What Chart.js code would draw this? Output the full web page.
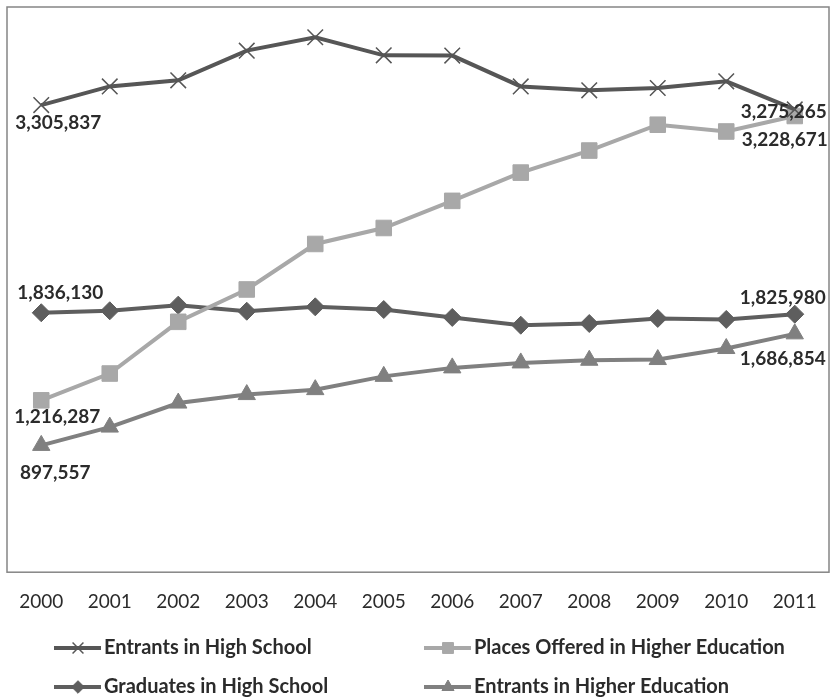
<!DOCTYPE html>
<html>
<head>
<meta charset="utf-8">
<script src="https://cdn.jsdelivr.net/npm/chart.js@4.4.1/dist/chart.umd.min.js"></script>
<style>
  html, body { margin: 0; padding: 0; background: #fff; }
</style>
</head>
<body>
<canvas id="chart" width="832" height="697"></canvas>
<script>
// Enrolment series, 2000-2011
const years = ['2000', '2001', '2002', '2003', '2004', '2005', '2006', '2007', '2008', '2009', '2010', '2011'];
const entrantsHighSchool = [3305837, 3438000, 3481000, 3691000, 3786000, 3658000, 3656000, 3438000, 3410000, 3427000, 3474000, 3275265];
const placesHigherEd = [1216287, 1406000, 1772000, 2001000, 2323000, 2436000, 2628000, 2828000, 2984000, 3167000, 3119000, 3228671];
const graduatesHighSchool = [1836130, 1850000, 1890000, 1847000, 1878000, 1859000, 1803000, 1748000, 1760000, 1796000, 1789000, 1825980];
const entrantsHigherEd = [897557, 1027000, 1197000, 1257000, 1292000, 1386000, 1446000, 1481000, 1500000, 1505000, 1583000, 1686854];

const FONT = 'Lato, "Open Sans", sans-serif';
const TEXT_COLOR = '#2b2b2b';

// which points get a value label, and where the label sits relative to the point
const valueLabels = [
  { ds: 0, i: 0, dx: 17, dy: 18 },
  { ds: 0, i: 11, dx: -11, dy: 2 },
  { ds: 1, i: 0, dx: 16, dy: 17 },
  { ds: 1, i: 11, dx: -10, dy: 24 },
  { ds: 2, i: 0, dx: 19, dy: -20 },
  { ds: 2, i: 11, dx: -12, dy: -16 },
  { ds: 3, i: 0, dx: 14, dy: 27 },
  { ds: 3, i: 11, dx: -12, dy: 25 }
];

// legend slots: line start x and row y, one per dataset
const legendSlots = [
  { x: 54, y: 648 },
  { x: 424, y: 648 },
  { x: 54, y: 687 },
  { x: 424, y: 687 }
];

function series(label, data, color, pointStyle, radius, pointBorderWidth) {
  return {
    label: label,
    data: data,
    borderColor: color,
    backgroundColor: color,
    borderWidth: 4,
    pointStyle: pointStyle,
    pointRadius: radius,
    pointHoverRadius: radius,
    pointBorderWidth: pointBorderWidth,
    pointBackgroundColor: color,
    pointBorderColor: color,
    tension: 0
  };
}

const plotBorder = {
  id: 'plotBorder',
  beforeDatasetsDraw(chart) {
    const a = chart.chartArea;
    const ctx = chart.ctx;
    ctx.save();
    ctx.strokeStyle = '#858585';
    ctx.lineWidth = 1.5;
    ctx.strokeRect(a.left, a.top, a.right - a.left, a.bottom - a.top);
    ctx.restore();
  }
};

const endLabels = {
  id: 'endLabels',
  afterDatasetsDraw(chart) {
    const ctx = chart.ctx;
    ctx.save();
    ctx.font = 'bold 19px ' + FONT;
    ctx.fillStyle = TEXT_COLOR;
    ctx.textAlign = 'center';
    ctx.textBaseline = 'middle';
    valueLabels.forEach(l => {
      const pt = chart.getDatasetMeta(l.ds).data[l.i];
      const v = chart.data.datasets[l.ds].data[l.i];
      ctx.fillText(v.toLocaleString('en-US'), pt.x + l.dx, pt.y + l.dy);
    });
    ctx.restore();
  }
};

const lineLegend = {
  id: 'lineLegend',
  afterDraw(chart) {
    const ctx = chart.ctx;
    ctx.save();
    chart.data.datasets.forEach((ds, k) => {
      const s = legendSlots[k];
      ctx.strokeStyle = ds.borderColor;
      ctx.lineWidth = 4;
      ctx.beginPath();
      ctx.moveTo(s.x, s.y);
      ctx.lineTo(s.x + 47, s.y);
      ctx.stroke();
      ctx.fillStyle = ds.pointBackgroundColor;
      ctx.strokeStyle = ds.pointBorderColor;
      ctx.lineWidth = ds.pointBorderWidth;
      Chart.helpers.drawPoint(ctx, { pointStyle: ds.pointStyle, radius: ds.pointRadius * 0.7, rotation: 0, borderWidth: ds.pointBorderWidth }, s.x + 24, s.y);
      ctx.font = 'bold 20px ' + FONT;
      ctx.fillStyle = TEXT_COLOR;
      ctx.textAlign = 'left';
      ctx.textBaseline = 'middle';
      ctx.fillText(ds.label, s.x + 50, s.y);
    });
    ctx.restore();
  }
};

new Chart(document.getElementById('chart'), {
  type: 'line',
  data: {
    labels: years,
    datasets: [
      series('Entrants in High School', entrantsHighSchool, '#565656', 'crossRot', 11, 1.5),
      series('Places Offered in Higher Education', placesHigherEd, '#a8a8a8', 'rect', 11, 1),
      series('Graduates in High School', graduatesHighSchool, '#5e5e5e', 'rectRot', 9, 1),
      series('Entrants in Higher Education', entrantsHigherEd, '#808080', 'triangle', 10, 1)
    ]
  },
  options: {
    responsive: false,
    animation: false,
    layout: { autoPadding: false, padding: { left: 7, right: 3, top: 7, bottom: 84 } },
    plugins: {
      legend: { display: false },
      tooltip: { enabled: false }
    },
    scales: {
      x: {
        offset: true,
        grid: { display: false, drawTicks: true, tickLength: 18 },
        border: { display: false },
        ticks: {
          padding: 0,
          color: TEXT_COLOR,
          font: { family: FONT, size: 19 },
          maxRotation: 0
        }
      },
      y: {
        display: false,
        min: 0,
        max: 4000000
      }
    }
  },
  plugins: [plotBorder, endLabels, lineLegend]
});
</script>
</body>
</html>
